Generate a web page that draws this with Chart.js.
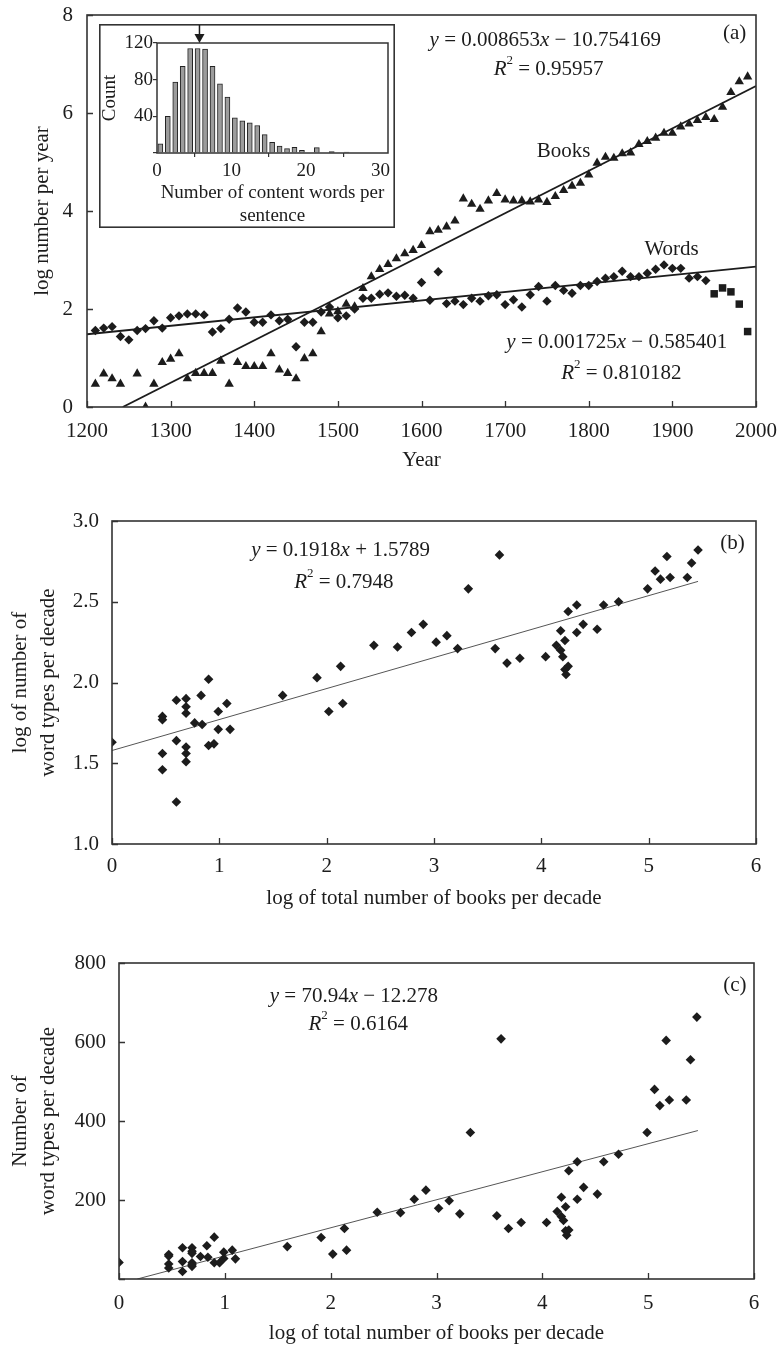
<!DOCTYPE html>
<html>
<head>
<meta charset="utf-8">
<script src="https://cdn.jsdelivr.net/npm/chart.js@4.4.1/dist/chart.umd.min.js"></script>
<style>
html,body{margin:0;padding:0;background:#fff;}
#wrap{position:relative;width:778px;height:1347px;overflow:hidden;background:#fff;}
canvas{position:absolute;}
</style>
</head>
<body>
<div id="wrap">
<canvas id="ca" width="778" height="475" style="left:0;top:0;width:778px;height:475px"></canvas>
<canvas id="ci" width="296" height="204" style="left:99px;top:24px;width:296px;height:204px"></canvas>
<canvas id="cb" width="778" height="445" style="left:0;top:475px;width:778px;height:445px"></canvas>
<canvas id="cc" width="778" height="427" style="left:0;top:920px;width:778px;height:427px"></canvas>
</div>
<script>
// ---------------- DATA ----------------
// Panel (a): log number per year, by decade
const decadeYears = [1210,1220,1230,1240,1250,1260,1270,1280,1290,1300,
  1310,1320,1330,1340,1350,1360,1370,1380,1390,1400,
  1410,1420,1430,1440,1450,1460,1470,1480,1490,1500,
  1510,1520,1530,1540,1550,1560,1570,1580,1590,1600,
  1610,1620,1630,1640,1650,1660,1670,1680,1690,1700,
  1710,1720,1730,1740,1750,1760,1770,1780,1790,1800,
  1810,1820,1830,1840,1850,1860,1870,1880,1890,1900,
  1910,1920,1930,1940,1950,1960,1970,1980,1990];
const booksLog = [0.47,0.68,0.58,0.47,null,0.68,0.00,0.47,0.91,0.98,
  1.09,0.58,0.69,0.69,0.69,0.94,0.47,0.91,0.83,0.83,
  0.83,1.09,0.76,0.69,0.58,0.99,1.09,1.54,1.90,1.95,
  2.10,2.05,2.42,2.66,2.81,2.91,3.03,3.13,3.20,3.30,
  3.58,3.61,3.68,3.80,4.25,4.14,4.04,4.21,4.36,4.23,
  4.21,4.21,4.19,4.23,4.18,4.30,4.42,4.51,4.57,4.74,
  4.98,5.10,5.08,5.17,5.19,5.36,5.42,5.49,5.59,5.59,
  5.72,5.78,5.85,5.91,5.87,6.12,6.42,6.64,6.74];
// words (diamonds) 1210-1940
const wordsLog = [1.56,1.61,1.64,1.44,1.37,1.56,1.60,1.76,1.61,1.82,
  1.86,1.90,1.90,1.88,1.53,1.60,1.79,2.02,1.94,1.73,
  1.73,1.88,1.76,1.79,1.23,1.73,1.73,1.94,2.04,1.82,
  1.86,2.00,2.22,2.22,2.30,2.33,2.26,2.28,2.22,2.54,
  2.18,2.76,2.11,2.16,2.09,2.22,2.16,2.27,2.29,2.09,
  2.19,2.04,2.29,2.46,2.16,2.48,2.38,2.32,2.48,2.48,
  2.56,2.63,2.66,2.77,2.66,2.66,2.73,2.81,2.90,2.83,
  2.83,2.63,2.66,2.58];
// words (squares) late decades
const lateYears = [1950,1960,1970,1980,1990];
const wordsLateLog = [2.31,2.43,2.35,2.10,1.54];
// fitted lines (end points)
const booksFitX = [1242.8, 2000];
const booksFitY = [0, 6.552];
const wordsFitX = [1200, 2000];
const wordsFitY = [1.485, 2.865];

// Inset histogram
const histBinX = [0.45,1.45,2.45,3.45,4.45,5.45,6.45,7.45,8.45,9.45,10.45,11.45,12.45,
  13.45,14.45,15.45,16.45,17.45,18.45,19.45,20.45,21.45,22.45,23.45,24.45,25.45];
const histCount = [10,40,77.5,94.5,114,114,113.5,94.5,75.5,61,38.5,35,33,30,20,11.6,7.6,4.7,6.2,3,0,5.8,0,1.5,0,1];
const insetArrowX = 5.7;

// Panels (b) and (c): per decade
const logBooksPerDecade = [0,
  0.47,0.47,0.47,0.47,
  0.60,0.60,0.60,
  0.69,0.69,0.69,0.69,0.69,0.69,
  0.77,0.83,0.84,0.90,0.90,0.95,0.99,0.99,1.07,1.10,
  1.59,1.91,2.02,2.13,2.15,2.44,2.66,2.79,2.90,3.02,
  3.12,3.22,3.32,3.57,3.61,3.68,3.80,4.04,4.14,4.18,
  4.18,4.20,4.22,4.22,4.23,4.25,4.25,4.33,4.33,4.39,
  4.52,4.58,4.72,4.99,5.06,5.11,5.17,5.20,5.36,5.40,5.46];
const logWordTypes = [1.63,
  1.79,1.77,1.56,1.46,
  1.89,1.64,1.26,
  1.90,1.85,1.81,1.60,1.56,1.51,
  1.75,1.92,1.74,2.02,1.61,1.62,1.82,1.71,1.87,1.71,
  1.92,2.03,1.82,2.10,1.87,2.23,2.22,2.31,2.36,2.25,
  2.29,2.21,2.58,2.21,2.79,2.12,2.15,2.16,2.23,2.32,
  2.20,2.16,2.26,2.08,2.05,2.44,2.10,2.48,2.31,2.36,
  2.33,2.48,2.50,2.58,2.69,2.64,2.78,2.65,2.65,2.74,2.82];
const wordTypes = [42,
  62,58,38,28,
  79,44,19,
  79,70,65,41,36,32,
  57,84,55,106,41,41,68,52,73,51,
  82,105,63,128,73,169,168,202,225,179,
  198,165,371,160,608,128,143,143,171,207,
  158,148,183,122,111,274,124,297,202,232,
  215,297,316,371,480,439,604,453,453,555,663];
const fitBX = [0, 5.46];
const fitBY = [1.5789, 2.626];
const fitCX = [0.173, 5.47];
const fitCY = [0, 375.8];

// ---------------- HELPERS ----------------
const FONT = "'Liberation Serif','Times New Roman','DejaVu Serif',serif";
const INK = '#1c1c1c';
const AX = '#333';
Chart.defaults.font.family = FONT;
Chart.defaults.color = INK;

function pts(xs, ys){
  const out = [];
  for (let i = 0; i < ys.length; i++) if (ys[i] !== null) out.push({x: xs[i], y: ys[i]});
  return out;
}

function drawRich(ctx, segs, cx, cy, size){
  let w = 0;
  const parts = segs.map(s => {
    const fs = s.sup ? Math.round(size * 0.62) : size;
    const f = (s.i ? 'italic ' : '') + fs + 'px ' + FONT;
    ctx.font = f;
    const mw = ctx.measureText(s.t).width;
    w += mw;
    return {s, f, mw};
  });
  let x = cx - w / 2;
  ctx.textAlign = 'left';
  ctx.textBaseline = 'middle';
  ctx.fillStyle = INK;
  parts.forEach(p => {
    ctx.font = p.f;
    ctx.fillText(p.s.t, x, cy - (p.s.sup ? size * 0.42 : 0));
    x += p.mw;
  });
}

const decor = {
  id: 'decor',
  beforeDraw(chart, args, o){
    if (o.bg){
      const c = chart.ctx; c.save(); c.fillStyle = o.bg; c.fillRect(0, 0, chart.width, chart.height); c.restore();
    }
  },
  afterDraw(chart, args, o){
    const ctx = chart.ctx, a = chart.chartArea, xs = chart.scales.x, ys = chart.scales.y;
    ctx.save();
    ctx.strokeStyle = AX;
    if (o.inTicks){
      ctx.lineWidth = 1.3;
      ctx.beginPath();
      xs.ticks.forEach(t => { const p = Math.round(xs.getPixelForValue(t.value)) + 0.5; ctx.moveTo(p, a.bottom); ctx.lineTo(p, a.bottom - o.inTicks); });
      ys.ticks.forEach(t => { const p = Math.round(ys.getPixelForValue(t.value)) + 0.5; ctx.moveTo(a.left, p); ctx.lineTo(a.left + o.inTicks, p); });
      ctx.stroke();
    }
    if (o.box){
      ctx.lineWidth = o.box;
      ctx.strokeRect(a.left, a.top, a.right - a.left, a.bottom - a.top);
    }
    if (o.outer){
      ctx.lineWidth = o.outer;
      ctx.strokeRect(o.outer / 2, o.outer / 2, chart.width - o.outer, chart.height - o.outer);
    }
    if (o.arrowAt != null){
      const px = xs.getPixelForValue(o.arrowAt);
      ctx.fillStyle = INK; ctx.strokeStyle = INK; ctx.lineWidth = 1.5;
      ctx.beginPath(); ctx.moveTo(px, 1); ctx.lineTo(px, a.top - 6); ctx.stroke();
      ctx.beginPath(); ctx.moveTo(px - 5, a.top - 9); ctx.lineTo(px + 5, a.top - 9); ctx.lineTo(px, a.top); ctx.closePath(); ctx.fill();
    }
    (o.texts || []).forEach(t => drawRich(ctx, t.segs, xs.getPixelForValue(t.x), ys.getPixelForValue(t.y), t.size || 21));
    ctx.restore();
  }
};

// gap between axis and labels is given as (hidden) tick length so it does not
// inflate the layout padding of the chart area
function axis(o){
  return {
    type: 'linear', min: o.min, max: o.max, offset: false,
    grid: o.grid || {display: false, drawTicks: true, tickLength: o.gap},
    border: o.border || {display: false},
    ticks: {stepSize: o.step, includeBounds: false, autoSkip: false, maxRotation: 0, color: INK,
      font: {family: FONT, size: o.fs || 21}, padding: o.pad || 0, callback: o.cb || (v => String(v))},
    title: {display: true, text: o.title, color: INK,
      font: {family: FONT, size: o.tfs || 21, lineHeight: o.tlh || 1.2}, padding: o.tpad},
    afterFit: s => { if (o.w != null) s.width = o.w; if (o.h != null) s.height = o.h; }
  };
}

function baseOpts(layoutPad, scales, decorOpts){
  return {
    responsive: false, animation: false, devicePixelRatio: 1, events: [],
    layout: {padding: layoutPad},
    plugins: {legend: {display: false}, tooltip: {enabled: false}, decor: decorOpts},
    scales: scales
  };
}

const ptStyle = (style, r) => ({pointStyle: style, pointRadius: r, backgroundColor: INK, borderColor: INK, borderWidth: 0});
const fitStyle = (w, c) => ({showLine: true, pointRadius: 0, borderColor: c, borderWidth: w, fill: false});

// ---------------- PANEL (a) ----------------
new Chart(document.getElementById('ca'), {
  type: 'scatter',
  data: {datasets: [
    Object.assign({label: 'Books', data: pts(decadeYears, booksLog)}, ptStyle('triangle', 5.4)),
    Object.assign({label: 'Words', data: pts(decadeYears, wordsLog)}, ptStyle('rectRot', 4.7)),
    Object.assign({label: 'Words (recent)', data: pts(lateYears, wordsLateLog)}, ptStyle('rect', 5.3)),
    Object.assign({label: 'Books fit', data: pts(booksFitX, booksFitY)}, fitStyle(1.8, INK)),
    Object.assign({label: 'Words fit', data: pts(wordsFitX, wordsFitY)}, fitStyle(1.8, INK))
  ]},
  options: baseOpts({left: 0, top: 15, right: 22, bottom: 0}, {
    x: axis({min: 1200, max: 2000, step: 100, gap: 12, title: 'Year', tpad: {top: 0, bottom: 2}, h: 68}),
    y: axis({min: 0, max: 8, step: 2, gap: 14, title: 'log number per year', tpad: {top: 30, bottom: 0}, w: 87})
  }, {
    box: 1.6, inTicks: 6,
    texts: [
      {x: 1748, y: 7.49, segs: [{t: 'y', i: 1}, {t: ' = 0.008653'}, {t: 'x', i: 1}, {t: ' \u2212 10.754169'}]},
      {x: 1752, y: 6.88, segs: [{t: 'R', i: 1}, {t: '2', sup: 1}, {t: ' = 0.95957'}]},
      {x: 1974.5, y: 7.63, segs: [{t: '(a)'}]},
      {x: 1770, y: 5.21, segs: [{t: 'Books'}]},
      {x: 1899, y: 3.22, segs: [{t: 'Words'}]},
      {x: 1833.5, y: 1.31, segs: [{t: 'y', i: 1}, {t: ' = 0.001725'}, {t: 'x', i: 1}, {t: ' \u2212 0.585401'}]},
      {x: 1839, y: 0.69, segs: [{t: 'R', i: 1}, {t: '2', sup: 1}, {t: ' = 0.810182'}]}
    ]
  }),
  plugins: [decor]
});

// ---------------- INSET ----------------
const insetGrid = {display: true, drawOnChartArea: false, drawTicks: true, tickLength: 4, color: AX, lineWidth: 1.2};
new Chart(document.getElementById('ci'), {
  type: 'bar',
  data: {datasets: [{label: 'Count', data: pts(histBinX, histCount), barThickness: 5,
    backgroundColor: '#9c9c9c', borderColor: '#222', borderWidth: 1}]},
  options: baseOpts({left: 0, top: 19, right: 7, bottom: 0}, {
    x: axis({min: 0, max: 31, step: 10, pad: 3, fs: 19, tfs: 19, tlh: 1.21, grid: insetGrid,
      title: ['Number of content words per', 'sentence'], tpad: {top: 0, bottom: 0.5}, h: 75}),
    y: axis({min: 0, max: 120, step: 40, pad: 0, fs: 19, tfs: 19, grid: insetGrid,
      cb: v => (v === 0 ? '' : String(v)), title: 'Count', tpad: {top: 0, bottom: 0}, w: 58})
  }, {bg: '#fff', box: 1.5, outer: 1.6, arrowAt: insetArrowX}),
  plugins: [decor]
});

// ---------------- PANEL (b) ----------------
new Chart(document.getElementById('cb'), {
  type: 'scatter',
  data: {datasets: [
    Object.assign({label: 'Word types (log)', data: pts(logBooksPerDecade, logWordTypes)}, ptStyle('rectRot', 4.8)),
    Object.assign({label: 'Fit', data: pts(fitBX, fitBY)}, fitStyle(1, '#555'))
  ]},
  options: baseOpts({left: 0, top: 46, right: 22, bottom: 0}, {
    x: axis({min: 0, max: 6, step: 1, gap: 10, title: 'log of total number of books per decade', tpad: {top: 0, bottom: 9.4}, h: 76}),
    y: axis({min: 1, max: 3, step: 0.5, gap: 13, cb: v => v.toFixed(1), tlh: 1.314,
      title: ['log of number of', 'word types per decade'], tpad: {top: 7, bottom: 0}, w: 112})
  }, {
    box: 1.6, inTicks: 6,
    texts: [
      {x: 2.13, y: 2.82, segs: [{t: 'y', i: 1}, {t: ' = 0.1918'}, {t: 'x', i: 1}, {t: ' + 1.5789'}]},
      {x: 2.16, y: 2.62, segs: [{t: 'R', i: 1}, {t: '2', sup: 1}, {t: ' = 0.7948'}]},
      {x: 5.78, y: 2.86, segs: [{t: '(b)'}]}
    ]
  }),
  plugins: [decor]
});

// ---------------- PANEL (c) ----------------
new Chart(document.getElementById('cc'), {
  type: 'scatter',
  data: {datasets: [
    Object.assign({label: 'Word types', data: pts(logBooksPerDecade, wordTypes)}, ptStyle('rectRot', 4.8)),
    Object.assign({label: 'Fit', data: pts(fitCX, fitCY)}, fitStyle(1, '#555'))
  ]},
  options: baseOpts({left: 0, top: 43, right: 24, bottom: 0}, {
    x: axis({min: 0, max: 6, step: 1, gap: 12, title: 'log of total number of books per decade', tpad: {top: 0, bottom: 1.4}, h: 68}),
    y: axis({min: 0, max: 800, step: 200, gap: 13, cb: v => (v === 0 ? '' : String(v)), tlh: 1.314,
      title: ['Number of', 'word types per decade'], tpad: {top: 7, bottom: 0}, w: 119})
  }, {
    box: 1.6, inTicks: 6,
    texts: [
      {x: 2.22, y: 715, segs: [{t: 'y', i: 1}, {t: ' = 70.94'}, {t: 'x', i: 1}, {t: ' \u2212 12.278'}]},
      {x: 2.26, y: 644, segs: [{t: 'R', i: 1}, {t: '2', sup: 1}, {t: ' = 0.6164'}]},
      {x: 5.82, y: 742, segs: [{t: '(c)'}]}
    ]
  }),
  plugins: [decor]
});
</script>
</body>
</html>
